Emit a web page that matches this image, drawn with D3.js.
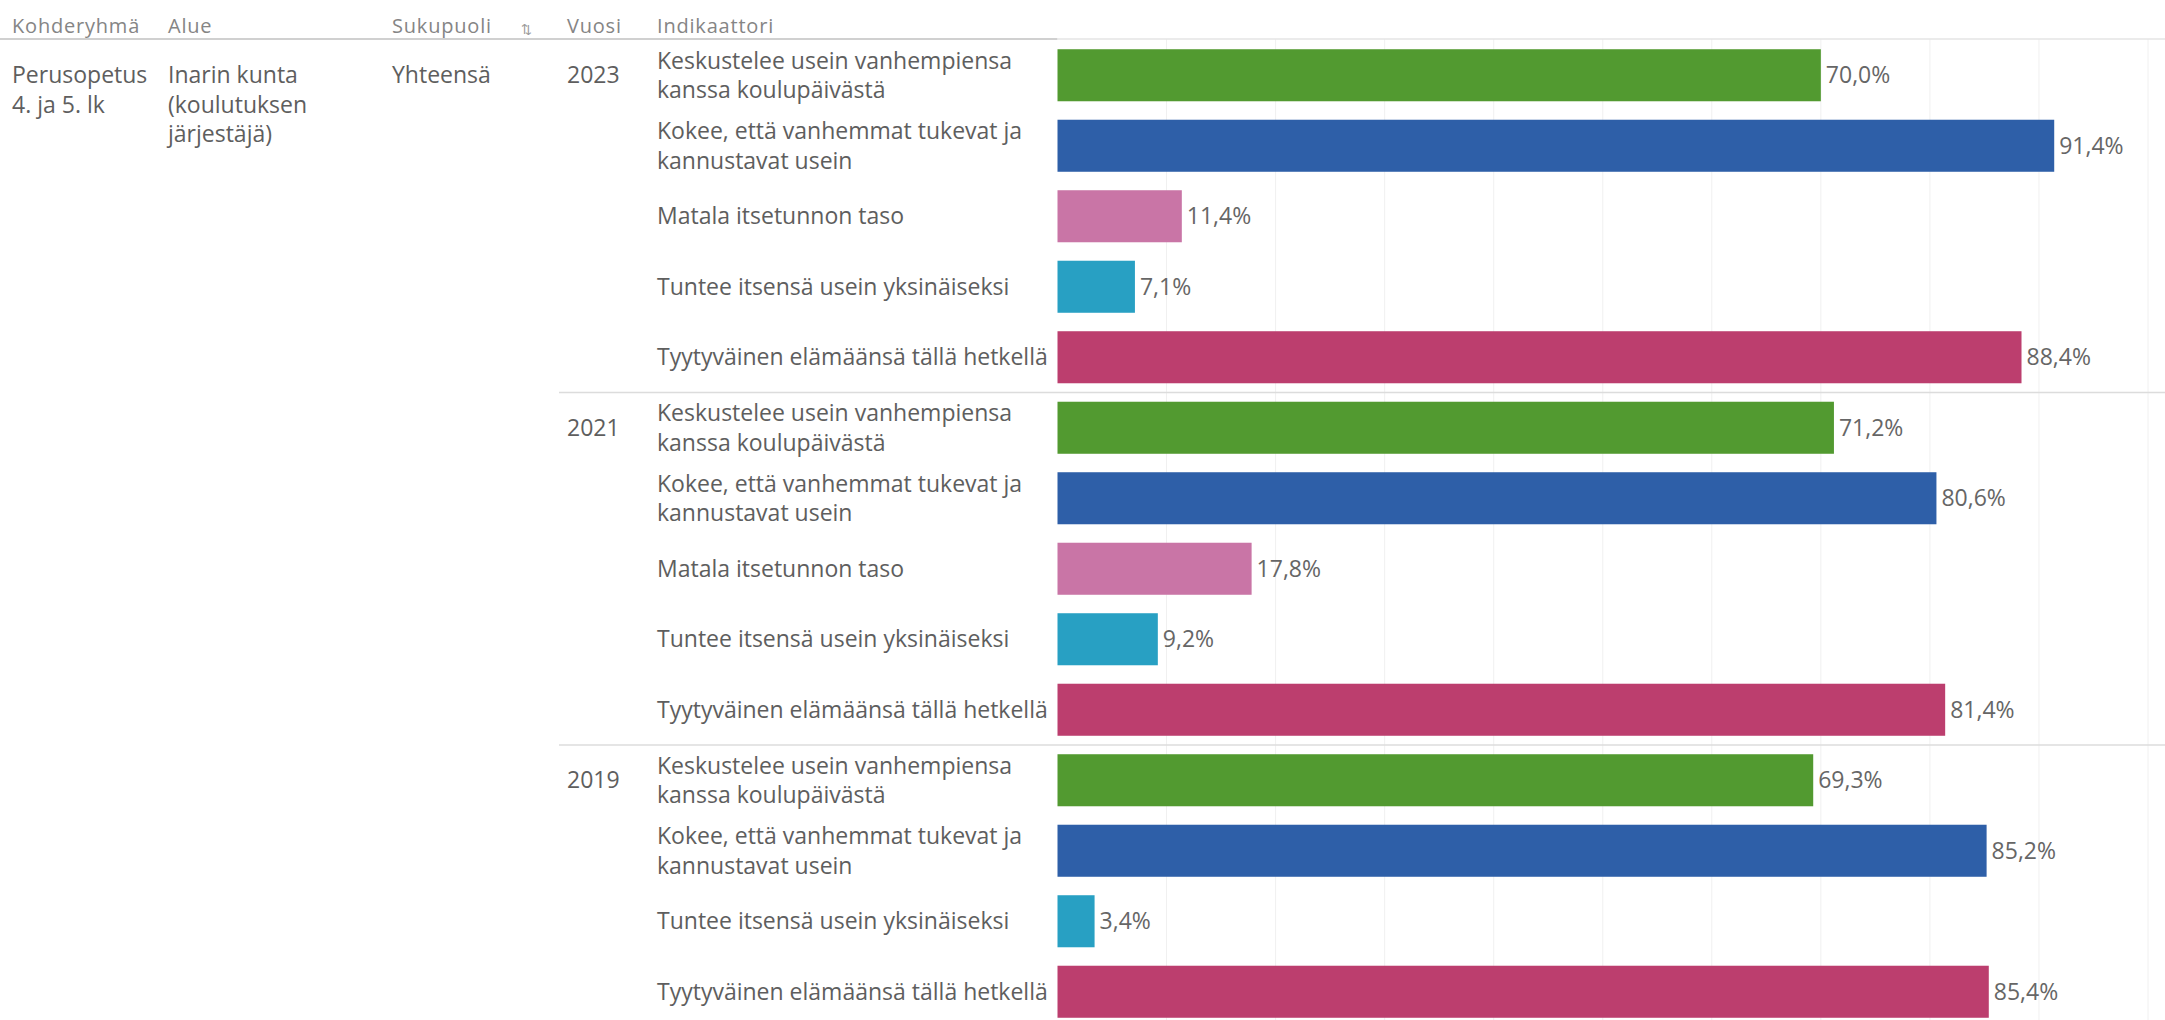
<!DOCTYPE html>
<html>
<head>
<meta charset="utf-8">
<script src="https://cdn.jsdelivr.net/npm/d3@7"></script>
<style>
  body { margin: 0; background: #fff; }
  svg { display: block; font-family: "Open Sans", sans-serif; }
  .hdr { fill: #858585; font-size: 20px; letter-spacing: 0.8px; }
  .cell { fill: #5e5e5e; font-size: 23px; }
  .val { fill: #666; font-size: 23px; }
</style>
</head>
<body>
<svg id="chart"></svg>
<script>
// header columns of the table
const headers = ["Kohderyhmä", "Alue", "Sukupuoli", "Vuosi", "Indikaattori"];
const kohderyhma = ["Perusopetus", "4. ja 5. lk"];
const alue = ["Inarin kunta", "(koulutuksen", "järjestäjä)"];
const sukupuoli = ["Yhteensä"];

const years = ["2023", "2021", "2019"];
const indicators = [
    "Keskustelee usein vanhempiensa kanssa koulupäivästä",
    "Kokee, että vanhemmat tukevat ja kannustavat usein",
    "Matala itsetunnon taso",
    "Tuntee itsensä usein yksinäiseksi",
    "Tyytyväinen elämäänsä tällä hetkellä"
];
// how the long indicator names wrap
const indicatorLines = [
    ["Keskustelee usein vanhempiensa", "kanssa koulupäivästä"],
    ["Kokee, että vanhemmat tukevat ja", "kannustavat usein"],
    ["Matala itsetunnon taso"],
    ["Tuntee itsensä usein yksinäiseksi"],
    ["Tyytyväinen elämäänsä tällä hetkellä"]
];
const indicatorColors = ["#529a30", "#2e5fa8", "#c975a6", "#28a0c3", "#bc3e6e"];

// percentages, null = no value for that year
const values2023 = [70.0, 91.4, 11.4, 7.1, 88.4];
const values2021 = [71.2, 80.6, 17.8, 9.2, 81.4];
const values2019 = [69.3, 85.2, null, 3.4, 85.4];
const valuesByYear = [values2023, values2021, values2019];

const gridTicks = [10, 20, 30, 40, 50, 60, 70, 80, 90, 100];

const width = 2165, height = 1020;
const headerLineY = 39;
const rowStep = 70.5;
const colX = [12, 168, 392, 567, 657];
const barLeft = 1057.5, barRight = 2148;
const lineGap = 29.5;

// flatten into one row per bar
const rows = [];
years.forEach((y, gi) => {
    valuesByYear[gi].forEach((v, ii) => {
        if (v === null) return;
        rows.push({year: y, group: gi, ind: ii, value: v, key: y + "|" + ii});
    });
});

const svg = d3.select("#chart")
    .attr("width", width)
    .attr("height", height);

const yScale = d3.scaleBand()
    .domain(rows.map(d => d.key))
    .range([headerLineY + 1, headerLineY + 1 + rows.length * rowStep])
    .paddingInner(0.262)
    .paddingOuter(0.131);

const xScale = d3.scaleLinear()
    .domain([0, 100])
    .range([barLeft, barRight]);

const fmt = d3.formatLocale({decimal: ",", thousands: " ", grouping: [3], currency: ["", "€"]}).format(".1f");

const rowCenter = d => yScale(d.key) + yScale.bandwidth() / 2;
const rowTop = d => yScale(d.key) - yScale.step() * yScale.paddingInner() / 2;

// vertical gridlines
svg.append("g")
    .selectAll("line")
    .data(gridTicks)
    .join("line")
    .attr("x1", d => xScale(d)).attr("x2", d => xScale(d))
    .attr("y1", headerLineY).attr("y2", height)
    .attr("stroke", "#f0f0f0")
    .attr("stroke-width", 1);

// header line
svg.append("line")
    .attr("x1", 0).attr("x2", barLeft)
    .attr("y1", headerLineY).attr("y2", headerLineY)
    .attr("stroke", "#d0d0d0").attr("stroke-width", 2);
svg.append("line")
    .attr("x1", barLeft).attr("x2", width)
    .attr("y1", headerLineY).attr("y2", headerLineY)
    .attr("stroke", "#e4e4e4").attr("stroke-width", 1.5);

// group separators
const firstOfGroup = years.map((y, gi) => rows.find(r => r.group === gi));
svg.append("g")
    .selectAll("line")
    .data(firstOfGroup.slice(1))
    .join("line")
    .attr("x1", 559).attr("x2", width)
    .attr("y1", d => rowTop(d)).attr("y2", d => rowTop(d))
    .attr("stroke", "#dcdcdc").attr("stroke-width", 1.5);

// column headers
svg.append("g")
    .selectAll("text")
    .data(headers)
    .join("text")
    .attr("class", "hdr")
    .attr("x", (d, i) => colX[i])
    .attr("y", 33)
    .text(d => d);

// sort icon beside Sukupuoli
svg.append("text")
    .attr("x", 521).attr("y", 34)
    .attr("fill", "#999")
    .style("font-size", "13px")
    .text("⇅");

// row header cells of the first group
const firstRow = rows[0];
const multiLine = (g, lines, x, y0) => {
    g.append("g")
        .selectAll("text")
        .data(lines)
        .join("text")
        .attr("class", "cell")
        .attr("x", x)
        .attr("y", (d, i) => y0 + i * lineGap + 8)
        .text(d => d);
};
multiLine(svg, kohderyhma, colX[0], rowCenter(firstRow));
multiLine(svg, alue, colX[1], rowCenter(firstRow));
multiLine(svg, sukupuoli, colX[2], rowCenter(firstRow));

// year labels
svg.append("g")
    .selectAll("text")
    .data(firstOfGroup)
    .join("text")
    .attr("class", "cell")
    .attr("x", colX[3])
    .attr("y", d => rowCenter(d) + 8)
    .text(d => d.year);

// indicator labels
const labelG = svg.append("g");
rows.forEach(d => {
    const lines = indicatorLines[d.ind];
    const y0 = rowCenter(d) - (lines.length - 1) * lineGap / 2;
    multiLine(labelG, lines, colX[4], y0);
});

// bars
svg.append("g")
    .selectAll("rect")
    .data(rows)
    .join("rect")
    .attr("x", xScale(0))
    .attr("y", d => yScale(d.key))
    .attr("width", d => xScale(d.value) - xScale(0))
    .attr("height", yScale.bandwidth())
    .attr("fill", d => indicatorColors[d.ind]);

// value labels
svg.append("g")
    .selectAll("text")
    .data(rows)
    .join("text")
    .attr("class", "val")
    .attr("x", d => xScale(d.value) + 5)
    .attr("y", d => rowCenter(d) + 8)
    .text(d => fmt(d.value) + "%");
</script>
</body>
</html>
